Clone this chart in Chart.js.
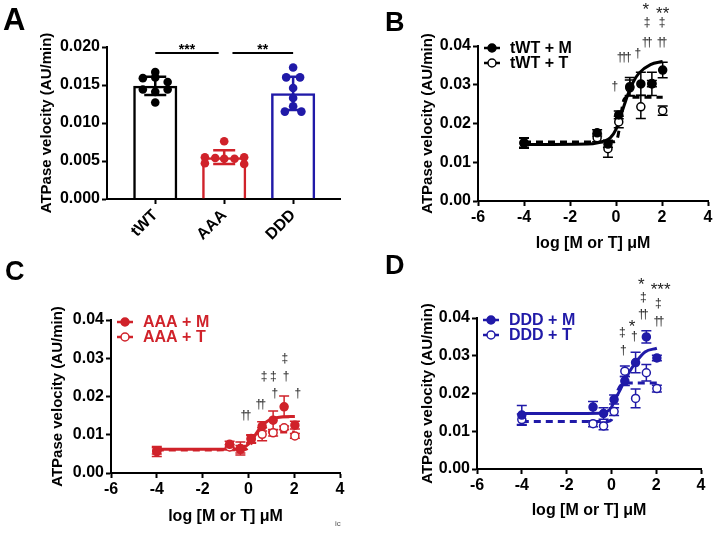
<!DOCTYPE html>
<html>
<head>
<meta charset="utf-8">
<script src="https://cdn.jsdelivr.net/npm/chart.js@4.4.0/dist/chart.umd.min.js"></script>
<style>
  body { margin: 0; width: 714px; height: 536px; background: #fff; position: relative; overflow: hidden; font-family: "Liberation Sans", Arial, sans-serif; }
  .panel { position: absolute; width: 357px; height: 268px; }
  .letter { position: absolute; font-weight: bold; line-height: 1; color: #000; }
  #ic { position: absolute; left: 335px; top: 519px; font-size: 8px; color: #555; }
</style>
</head>
<body>
<div class="panel" style="left:0;top:0"><canvas id="chartA" width="357" height="268"></canvas></div>
<div class="panel" style="left:357px;top:0"><canvas id="chartB" width="357" height="268"></canvas></div>
<div class="panel" style="left:0;top:268px"><canvas id="chartC" width="357" height="268"></canvas></div>
<div class="panel" style="left:357px;top:268px"><canvas id="chartD" width="357" height="268"></canvas></div>
<div class="letter" style="left:3px;top:4px;font-size:31px">A</div>
<div class="letter" style="left:385px;top:9px;font-size:27px">B</div>
<div class="letter" style="left:5px;top:258px;font-size:27px">C</div>
<div class="letter" style="left:385px;top:252px;font-size:27px">D</div>
<div id="ic">ic</div>
<script>
// ---- panel A data ----
const groups = ['tWT', 'AAA', 'DDD']
const barMeans = [0.0149, 0.0055, 0.0139]
const barSd = [0.0012, 0.0009, 0.0022]
const tWTpts = [0.0167, 0.0159, 0.0160, 0.0154, 0.0144, 0.0144, 0.0141, 0.0127]
const AAApts = [0.0076, 0.0055, 0.0054, 0.0053, 0.0053, 0.0055, 0.0047, 0.0046]
const DDDpts = [0.0173, 0.0160, 0.0160, 0.0146, 0.0133, 0.0122, 0.0115, 0.0115]
const sigA = [[0, 0.92, 0.0192, '***'], [1.12, 2.0, 0.0192, '**']]

// ---- dose response data (log uM) ----
const doseLog = [-4, -0.82, -0.35, 0.12, 0.6, 1.08, 1.56, 2.03]

const bM = [0.0149, 0.0176, 0.0147, 0.0222, 0.0295, 0.0302, 0.0303, 0.0338]
const bMsd = [0.0013, 0.0008, 0.0008, 0.0010, 0.0024, 0.0030, 0.0008, 0.0020]
const bT = [0.0151, 0.0163, 0.0135, 0.0204, 0.0292, 0.0243, 0.0302, 0.0233]
const bTsd = [0.0012, 0.0010, 0.0022, 0.0015, 0.0020, 0.0030, 0.0030, 0.0012]
const bFitMx = [-4, -1, -0.5, -0.25, 0, 0.25, 0.5, 0.75, 1, 1.5, 2.03]
const bFitMy = [0.0146, 0.0148, 0.0155, 0.0163, 0.0185, 0.0228, 0.0272, 0.0307, 0.0330, 0.0352, 0.0360]
const bFitTx = [-4, -0.5, -0.1, 0.05, 0.15, 0.25, 0.35, 0.5, 2.03]
const bFitTy = [0.0152, 0.0152, 0.0153, 0.0160, 0.0190, 0.0235, 0.0262, 0.0268, 0.0268]
const bMarks = [[-0.1, 0.0295, '†'], [0.3, 0.0369, '†††'], [0.9, 0.038, '†'], [1.3, 0.0408, '††'], [1.95, 0.0408, '††'],
  [1.3, 0.046, '‡'], [1.95, 0.046, '‡'], [1.3, 0.0502, '*'], [2.03, 0.0493, '**']]

const cM = [0.0056, 0.0075, 0.0064, 0.0090, 0.0122, 0.0138, 0.0173, 0.0125]
const cMsd = [0.0013, 0.0008, 0.0017, 0.0010, 0.0012, 0.0024, 0.0028, 0.0010]
const cT = [0.0058, 0.0068, 0.0062, 0.0088, 0.0101, 0.0105, 0.0118, 0.0097]
const cTsd = [0.0008, 0.0006, 0.0010, 0.0010, 0.0017, 0.0008, 0.0005, 0.0006]
const cFitMx = [-4, -0.5, -0.2, 0, 0.25, 0.5, 0.75, 1, 1.5, 2.03]
const cFitMy = [0.0062, 0.0063, 0.0067, 0.0075, 0.0095, 0.0117, 0.0132, 0.0141, 0.0147, 0.0148]
const cFitTx = [-4, -0.2, 0, 0.15, 0.3, 0.45, 0.6, 2.03]
const cFitTy = [0.0060, 0.0061, 0.0066, 0.0080, 0.0097, 0.0105, 0.0107, 0.0107]
const cMarks = [[-0.16, 0.0149, '††'], [0.49, 0.0178, '††'], [0.63, 0.0252, '‡'], [1.03, 0.0252, '‡'], [1.1, 0.0208, '†'],
  [1.54, 0.030, '‡'], [1.59, 0.0252, '†'], [2.1, 0.0208, '†']]

const dM = [0.0143, 0.0164, 0.0147, 0.0184, 0.0233, 0.0282, 0.0350, 0.0294]
const dMsd = [0.0025, 0.0015, 0.0015, 0.0012, 0.0012, 0.0027, 0.0016, 0.0007]
const dT = [0.0131, 0.0120, 0.0114, 0.0152, 0.0259, 0.0187, 0.0255, 0.0213]
const dTsd = [0.0015, 0.0008, 0.0010, 0.0010, 0.0014, 0.0025, 0.0022, 0.0009]
const dFitMx = [-4, -0.5, -0.2, 0, 0.12, 0.35, 0.6, 0.85, 1.08, 1.5, 2.03]
const dFitMy = [0.0147, 0.0148, 0.0152, 0.0163, 0.0180, 0.0205, 0.0236, 0.0262, 0.0282, 0.0310, 0.0320]
const dFitTx = [-4, -0.2, 0, 0.1, 0.2, 0.3, 0.45, 0.6, 2.03]
const dFitTy = [0.0126, 0.0126, 0.0130, 0.0150, 0.0185, 0.0210, 0.0224, 0.0228, 0.0228]
const dMarks = [[0.48, 0.0313, '†'], [0.43, 0.0361, '‡'], [0.92, 0.0386, '*'], [0.97, 0.035, '†'], [1.37, 0.041, '††'],
  [1.37, 0.0455, '‡'], [2.04, 0.0439, '‡'], [2.07, 0.039, '††'], [1.33, 0.0498, '*'], [2.2, 0.0483, '***']]

const BLACK = '#000000'
const RED = '#d0222a'
const BLUE = '#201aa8'
const FONT = '"Liberation Sans", Arial, sans-serif'

Chart.defaults.font.family = FONT
Chart.defaults.color = '#000'

const pts = (xs, ys) => xs.map((x, i) => ({ x: x, y: ys[i] }))

// error bars, significance lines, symbol marks and legend
const extras = {
  id: 'extras',
  beforeDatasetsDraw(chart, args, opts) {
    const ctx = chart.ctx
    const xs = chart.scales.x, ys = chart.scales.y
    ;(opts.errorBars || []).forEach(eb => {
      ctx.save()
      ctx.strokeStyle = eb.color
      ctx.lineWidth = eb.width
      eb.x.forEach((xv, i) => {
        const px = xs.getPixelForValue(xv)
        const top = ys.getPixelForValue(eb.y[i] + eb.err[i])
        const bot = ys.getPixelForValue(eb.y[i] - eb.err[i])
        ctx.beginPath()
        ctx.moveTo(px, top); ctx.lineTo(px, bot)
        ctx.moveTo(px - eb.cap, top); ctx.lineTo(px + eb.cap, top)
        ctx.moveTo(px - eb.cap, bot); ctx.lineTo(px + eb.cap, bot)
        ctx.stroke()
      })
      ctx.restore()
    })
  },
  afterDraw(chart, args, opts) {
    const ctx = chart.ctx
    const xs = chart.scales.x, ys = chart.scales.y
    ctx.save()
    ;(opts.sig || []).forEach(s => {
      const y = ys.getPixelForValue(s[2])
      const x1 = xs.getPixelForValue(s[0]), x2 = xs.getPixelForValue(s[1])
      ctx.strokeStyle = '#000'
      ctx.lineWidth = 2
      ctx.beginPath(); ctx.moveTo(x1, y); ctx.lineTo(x2, y); ctx.stroke()
      ctx.fillStyle = '#000'
      ctx.font = 'bold 14px ' + FONT
      ctx.textAlign = 'center'
      ctx.textBaseline = 'alphabetic'
      ctx.fillText(s[3], (x1 + x2) / 2, y + 1)
    })
    ;(opts.marks || []).forEach(m => {
      const isStar = m[2].indexOf('*') >= 0
      ctx.fillStyle = '#222'
      ctx.font = (isStar ? '17px ' : '12px ') + FONT
      ctx.letterSpacing = isStar ? '0px' : '-2.5px'
      ctx.textAlign = 'center'
      ctx.textBaseline = 'middle'
      ctx.fillText(m[2], xs.getPixelForValue(m[0]), ys.getPixelForValue(m[1]) + (isStar ? 4 : 0))
    })
    ctx.letterSpacing = '0px'
    if (opts.legend) {
      const a = chart.chartArea
      opts.legend.forEach((it, i) => {
        const x = a.left + 14, y = a.top + 2 + i * 15
        ctx.strokeStyle = it.color
        ctx.lineWidth = 2.5
        ctx.beginPath(); ctx.moveTo(x - 8, y); ctx.lineTo(x + 8, y); ctx.stroke()
        ctx.beginPath(); ctx.arc(x, y, 4, 0, Math.PI * 2)
        ctx.fillStyle = it.filled ? it.color : '#fff'
        ctx.fill()
        ctx.lineWidth = 1.5
        ctx.stroke()
        ctx.fillStyle = it.color
        ctx.font = 'bold 16px ' + FONT
        ctx.textAlign = 'left'
        ctx.textBaseline = 'middle'
        ctx.fillText(it.label, a.left + 32, y + 1)
      })
    }
    ctx.restore()
  }
}
Chart.register(extras)

function yAxis(max, step, digits, width, titlePad) {
  return {
    min: 0, max: max,
    ticks: { stepSize: step, callback: v => v.toFixed(digits), padding: 2, color: '#000', font: { size: 16, weight: 'bold' } },
    grid: { drawOnChartArea: false, drawTicks: true, tickLength: 5, tickWidth: 2, tickColor: '#000' },
    border: { display: true, color: '#000', width: 2 },
    title: { display: true, text: 'ATPase velocity (AU/min)', color: '#000', font: { size: 15, weight: 'bold' }, padding: { top: titlePad, bottom: 0 } },
    afterFit: s => { s.width = width; s.paddingTop = 0; s.paddingBottom = 0 }
  }
}

// ---- panel A ----
const jitA = [
  [0, -0.18, 0, 0.18, -0.18, 0.18, 0, 0],
  [0, -0.28, -0.13, 0, 0.15, 0.29, -0.28, 0.29],
  [0, -0.1, 0.1, 0, 0, 0, -0.12, 0.12]
]
const ptsA = [tWTpts, AAApts, DDDpts]
const colA = [BLACK, RED, BLUE]

new Chart(document.getElementById('chartA'), {
  type: 'bar',
  data: {
    datasets: ptsA.map((vals, g) => ({
      type: 'scatter',
      data: vals.map((v, i) => ({ x: g + jitA[g][i], y: v })),
      pointRadius: 4.3,
      pointBackgroundColor: colA[g],
      pointBorderColor: colA[g],
      pointBorderWidth: 0,
      clip: false
    })).concat([{
      type: 'bar',
      data: barMeans.map((v, i) => ({ x: i, y: v })),
      backgroundColor: 'rgba(0,0,0,0)',
      borderColor: colA,
      borderWidth: 2.5,
      borderSkipped: 'bottom',
      categoryPercentage: 1,
      barPercentage: 0.64
    }])
  },
  options: {
    responsive: false, animation: false, events: [],
    layout: { padding: { top: 47, right: 17, left: 0, bottom: 0 } },
    plugins: {
      legend: { display: false }, tooltip: { enabled: false },
      extras: {
        errorBars: [0, 1, 2].map(i => ({ x: [i], y: [barMeans[i]], err: [barSd[i]], color: colA[i], width: 2.5, cap: 11 })),
        sig: sigA
      }
    },
    scales: {
      x: {
        type: 'linear', min: -0.7, max: 2.68, offset: false,
        afterBuildTicks: s => { s.ticks = groups.map((g, i) => ({ value: i })) },
        ticks: { callback: v => groups[v], minRotation: 45, maxRotation: 45, padding: 2, color: '#000', font: { size: 16, weight: 'bold' } },
        grid: { offset: false, drawOnChartArea: false, drawTicks: true, tickLength: 5, tickWidth: 2, tickColor: '#000' },
        border: { display: true, color: '#000', width: 2 },
        afterFit: s => { s.height = 268 - 199; s.paddingLeft = 0; s.paddingRight = 0 }
      },
      y: yAxis(0.02, 0.005, 3, 107, 38)
    }
  }
})

// ---- panels B, C, D ----
function dosePanel(id, o) {
  return new Chart(document.getElementById(id), {
    type: 'scatter',
    data: {
      datasets: [
        { data: pts(doseLog, o.m), pointRadius: 4, pointBackgroundColor: o.color, pointBorderColor: o.color, pointBorderWidth: 1.5, clip: false },
        { data: pts(doseLog, o.t), pointRadius: 4, pointBackgroundColor: '#fff', pointBorderColor: o.color, pointBorderWidth: 1.5, clip: false },
        { data: pts(o.fitMx, o.fitMy), showLine: true, pointRadius: 0, borderColor: o.color, borderWidth: 3, cubicInterpolationMode: 'monotone' },
        { data: pts(o.fitTx, o.fitTy), showLine: true, pointRadius: 0, borderColor: o.color, borderWidth: 3, borderDash: [7, 5], cubicInterpolationMode: 'monotone' }
      ]
    },
    options: {
      responsive: false, animation: false, events: [],
      layout: { padding: { top: o.area.top, right: 357 - o.area.right, left: 0, bottom: 0 } },
      plugins: {
        legend: { display: false }, tooltip: { enabled: false },
        extras: {
          errorBars: [
            { x: doseLog, y: o.m, err: o.msd, color: o.color, width: 1.5, cap: 5 },
            { x: doseLog, y: o.t, err: o.tsd, color: o.color, width: 1.5, cap: 5 }
          ],
          marks: o.marks,
          legend: [
            { label: o.names[0], color: o.color, filled: true },
            { label: o.names[1], color: o.color, filled: false }
          ]
        }
      },
      scales: {
        x: {
          type: 'linear', min: -6, max: 4,
          ticks: { stepSize: 2, padding: 2, color: '#000', font: { size: 16, weight: 'bold' } },
          grid: { drawOnChartArea: false, drawTicks: true, tickLength: 5, tickWidth: 2, tickColor: '#000' },
          border: { display: true, color: '#000', width: 2 },
          title: { display: true, text: 'log [M or T] μM', color: '#000', font: { size: 16, weight: 'bold' }, padding: { top: 0, bottom: o.xTitlePad } },
          afterFit: s => { s.height = 268 - o.area.bottom; s.paddingLeft = 0; s.paddingRight = 0 }
        },
        y: yAxis(0.04, 0.01, 2, o.area.left, o.yTitlePad)
      }
    }
  })
}

dosePanel('chartB', {
  color: BLACK, names: ['tWT + M', 'tWT + T'],
  m: bM, msd: bMsd, t: bT, tsd: bTsd,
  fitMx: bFitMx, fitMy: bFitMy, fitTx: bFitTx, fitTy: bFitTy, marks: bMarks,
  area: { left: 121, right: 351, top: 46, bottom: 201 }, yTitlePad: 62, xTitlePad: 15
})
dosePanel('chartC', {
  color: RED, names: ['AAA + M', 'AAA + T'],
  m: cM, msd: cMsd, t: cT, tsd: cTsd,
  fitMx: cFitMx, fitMy: cFitMy, fitTx: cFitTx, fitTy: cFitTy, marks: cMarks,
  area: { left: 111, right: 340, top: 52, bottom: 205 }, yTitlePad: 49, xTitlePad: 10
})
dosePanel('chartD', {
  color: BLUE, names: ['DDD + M', 'DDD + T'],
  m: dM, msd: dMsd, t: dT, tsd: dTsd,
  fitMx: dFitMx, fitMy: dFitMy, fitTx: dFitTx, fitTy: dFitTy, marks: dMarks,
  area: { left: 120, right: 344, top: 50, bottom: 201 }, yTitlePad: 62, xTitlePad: 16
})
</script>
</body>
</html>
